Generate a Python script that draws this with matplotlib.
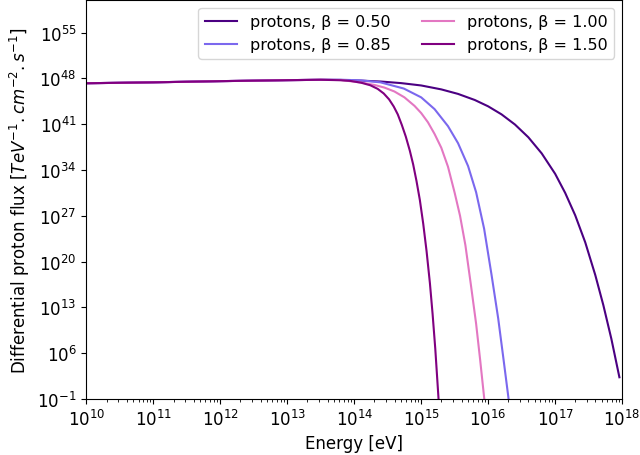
import numpy as np
import matplotlib.pyplot as plt

# values (log10 of energy in eV, log10 of flux)
logE_b050 = [10.0, 11.0, 12.0, 13.0, 13.5, 13.8, 14.1, 14.4, 14.7, 15.0, 15.3, 15.55, 15.8, 16.0,
             16.2, 16.4, 16.6, 16.8, 17.0, 17.15, 17.3, 17.45, 17.6, 17.72, 17.84, 17.96]
logF_b050 = [47.26, 47.40, 47.58, 47.73, 47.79, 47.76, 47.66, 47.52, 47.28, 46.92, 46.32, 45.63, 44.70,
             43.73, 42.5, 40.95, 39.0, 36.53, 33.42, 30.5, 27.07, 22.93, 17.93, 13.34, 8.18, 2.31]

logE_b085 = [10.0, 11.0, 12.0, 13.0, 13.5, 13.8, 14.1, 14.39, 14.74, 15.0, 15.2, 15.4, 15.55, 15.7,
             15.82, 15.94, 16.05, 16.15, 16.23, 16.305]
logF_b085 = [47.26, 47.40, 47.58, 47.73, 47.79, 47.8, 47.7, 47.4, 46.45, 45.1, 43.3, 40.7, 38.1, 34.6,
             30.6, 25.0, 18.0, 11.3, 5.0, -1.0]

logE_b100 = [10.0, 11.0, 12.0, 13.0, 13.5, 13.8, 14.0, 14.14, 14.3, 14.45, 14.6, 14.75, 14.9, 15.0,
             15.1, 15.2, 15.3, 15.4, 15.5, 15.58, 15.66, 15.74, 15.82, 15.88, 15.942]
logF_b100 = [47.26, 47.40, 47.58, 47.73, 47.79, 47.75, 47.5, 47.3, 47.0, 46.6, 46.0, 45.1, 43.8, 42.7,
             41.3, 39.5, 37.4, 34.5, 30.5, 27.0, 22.5, 16.6, 10.5, 5.0, -1.0]

logE_b150 = [10.0, 11.0, 12.0, 13.0, 13.5, 13.8, 13.94, 14.1, 14.24, 14.35, 14.44, 14.52, 14.59, 14.65,
             14.71, 14.77, 14.83, 14.88, 14.93, 14.98, 15.03, 15.08, 15.13, 15.17, 15.21, 15.259]
logF_b150 = [47.26, 47.40, 47.58, 47.73, 47.79, 47.72, 47.62, 47.35, 46.95, 46.4, 45.7, 44.8, 43.7, 42.5,
             40.9, 39.1, 36.95, 34.85, 32.3, 29.4, 25.8, 21.6, 16.7, 12.0, 6.7, -1.0]

labels = ['protons, β = 0.50', 'protons, β = 0.85', 'protons, β = 1.00', 'protons, β = 1.50']
colors = ['indigo', 'mediumslateblue', 'tab:pink', 'purple']
y_ticks = [1e-1, 1e6, 1e13, 1e20, 1e27, 1e34, 1e41, 1e48, 1e55]

plt.rcParams['font.size'] = 12

fig, ax = plt.subplots(figsize=(6.4, 4.56), dpi=100)
fig.subplots_adjust(left=0.135, right=0.972, top=0.998, bottom=0.123)

curves = [(logE_b050, logF_b050), (logE_b085, logF_b085),
          (logE_b100, logF_b100), (logE_b150, logF_b150)]
for (lx, ly), lab, c in zip(curves, labels, colors):
    ax.plot(10**np.array(lx), 10**np.array(ly), color=c, lw=1.5, label=lab)

ax.set_xscale('log')
ax.set_yscale('log')
ax.set_xlim(1e10, 1e18)
ax.set_ylim(1e-1, 1e60)
ax.set_yticks(y_ticks)
ax.yaxis.set_minor_locator(plt.NullLocator())
ax.set_xlabel('Energy [eV]')
ax.set_ylabel(r'Differential proton flux [$TeV^{-1}.cm^{-2}.s^{-1}$]')
ax.legend(loc='upper right', ncol=2, fontsize=11.5)

plt.savefig('out.png')
